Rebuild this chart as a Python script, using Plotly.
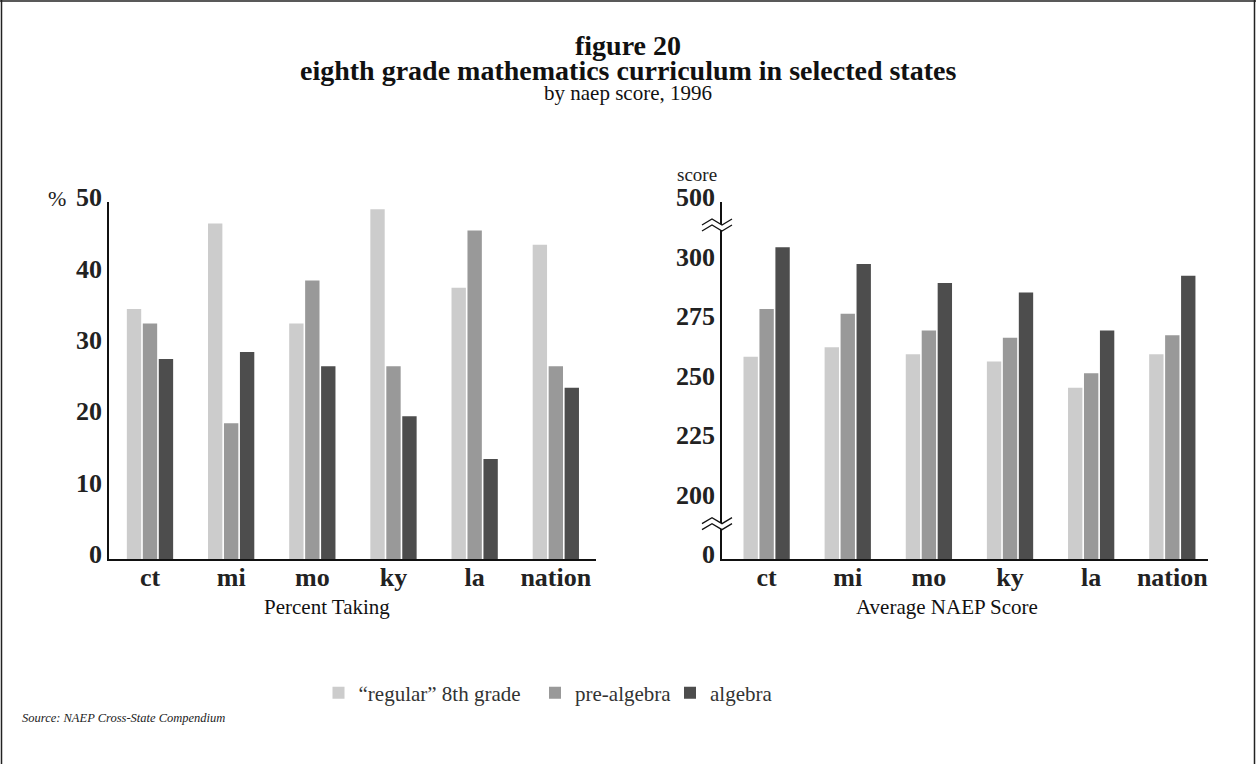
import plotly.graph_objects as go

W, H = 1256, 764

states = ["ct", "mi", "mo", "ky", "la", "nation"]
series_names = ["\u201cregular\u201d 8th grade", "pre-algebra", "algebra"]
pct_regular = [35, 47, 33, 49, 38, 44]
pct_prealg = [33, 19, 39, 27, 46, 27]
pct_alg = [28, 29, 27, 20, 14, 24]
score_regular = [260, 264, 261, 258, 247, 261]
score_prealg = [280, 278, 271, 268, 253, 269]
score_alg = [306, 299, 291, 287, 271, 294]

pct_ticks = [0, 10, 20, 30, 40, 50]
score_tickvals = [175, 200, 225, 250, 275, 300, 325]
score_ticktext = ["0", "200", "225", "250", "275", "300", "500"]
score_breaks = [189, 314.5]

colors = ["#cccccc", "#999999", "#4d4d4d"]
legend_x = [318.5, 535, 670]
SERIF = "Liberation Serif"

def px(x):
    return x / W

def py(y):
    return 1 - y / H

fig = go.Figure()
pct_series = [pct_regular, pct_prealg, pct_alg]
score_series = [score_regular, score_prealg, score_alg]
legend_ids = ["legend", "legend2", "legend3"]
for i in range(3):
    fig.add_trace(go.Bar(x=states, y=pct_series[i], name=series_names[i],
                         marker=dict(color=colors[i], line=dict(width=0)),
                         xaxis="x", yaxis="y", showlegend=True, legend=legend_ids[i],
                         legendgroup=str(i)))
for i in range(3):
    fig.add_trace(go.Bar(x=states, y=score_series[i], name=series_names[i],
                         marker=dict(color=colors[i], line=dict(width=0)),
                         xaxis="x2", yaxis="y2", showlegend=False, legendgroup=str(i)))

tickfont = dict(family=SERIF, size=26, color="#222222", weight="bold")
axis_common = dict(showgrid=False, zeroline=False, showline=True, linecolor="#111111",
                   linewidth=1.5, ticks="", tickfont=tickfont, fixedrange=True)

legend_common = dict(orientation="h", xanchor="left", yanchor="middle", y=py(693),
                     font=dict(family=SERIF, size=21, color="#333333"),
                     bgcolor="rgba(0,0,0,0)", borderwidth=0)

fig.update_layout(
    width=W, height=H,
    margin=dict(l=0, r=0, t=0, b=0, autoexpand=False),
    paper_bgcolor="white", plot_bgcolor="white",
    barmode="group", bargap=0.41, bargroupgap=0.1,
    font=dict(family=SERIF, color="#222222"),
    xaxis=dict(domain=[px(109), px(596)], anchor="y", type="category",
               range=[-0.505, 5.495], ticklabelstandoff=-6, **axis_common),
    yaxis=dict(domain=[py(559), py(202)], anchor="x", range=[0, 50],
               tickvals=pct_ticks, ticklabelshift=-5, **axis_common),
    xaxis2=dict(domain=[px(722), px(1208)], anchor="y2", type="category",
                range=[-0.55, 5.44], ticklabelstandoff=-6, **axis_common),
    yaxis2=dict(domain=[py(559), py(202)], anchor="x2", range=[175, 325],
                tickvals=score_tickvals, ticktext=score_ticktext, ticklabelshift=-5,
                **axis_common),
    legend=dict(x=px(legend_x[0]), **legend_common),
    legend2=dict(x=px(legend_x[1]), **legend_common),
    legend3=dict(x=px(legend_x[2]), **legend_common),
)

# axis break symbols on the score axis
for yb in score_breaks:
    band = "M-20,2 L-10,8 L0,2 L10,8 L10,2 L0,-4 L-10,2 L-20,-4 Z"
    fig.add_shape(type="path", xref="x2 domain", yref="y2", xsizemode="pixel",
                  ysizemode="pixel", xanchor=0, yanchor=yb, path=band,
                  fillcolor="white", line=dict(width=0), layer="above")
    for edge in ["M-20,2 L-10,8 L0,2 L10,8", "M-20,-4 L-10,2 L0,-4 L10,2"]:
        fig.add_shape(type="path", xref="x2 domain", yref="y2", xsizemode="pixel",
                      ysizemode="pixel", xanchor=0, yanchor=yb, path=edge,
                      line=dict(color="#111111", width=1.3), layer="above")

# outer frame
for x0, y0, x1, y1 in [(0, 1, W, 1), (1.5, 0, 1.5, H), (W - 1.5, 0, W - 1.5, H)]:
    fig.add_shape(type="line", xref="paper", yref="paper",
                  x0=px(x0), y0=py(y0), x1=px(x1), y1=py(y1),
                  line=dict(color="#222222", width=1.5))

def note(text, x, y, size, bold=False, italic=False, anchor="center", color="#111111"):
    fig.add_annotation(text=text, x=px(x), y=py(y), xref="paper", yref="paper",
                       xanchor=anchor, yanchor="middle", showarrow=False,
                       font=dict(family=SERIF, size=size, color=color,
                                 weight="bold" if bold else "normal",
                                 style="italic" if italic else "normal"))

note("figure 20", 628, 46, 28, bold=True)
note("eighth grade mathematics curriculum in selected states", 628, 70, 28, bold=True)
note("by naep score, 1996", 628, 93, 21)
note("%", 57, 198, 22, color="#222222")
note("score", 697, 175, 19, color="#222222")
note("Percent Taking", 327, 607, 21)
note("Average NAEP Score", 947, 607, 21)
note("Source: NAEP Cross-State Compendium", 20, 718, 12.5, italic=True, anchor="left", color="#222222")

post = (
    "document.documentElement.style.margin='0';"
    "document.body.style.margin='0';"
    "document.body.style.overflow='hidden';"
    "var gdiv=document.querySelector('.plotly-graph-div');"
    "gdiv.style.position='fixed';gdiv.style.top='0px';gdiv.style.left='0px';"
)
fig.write_html("out.html", config={"displayModeBar": False}, post_script=post)
